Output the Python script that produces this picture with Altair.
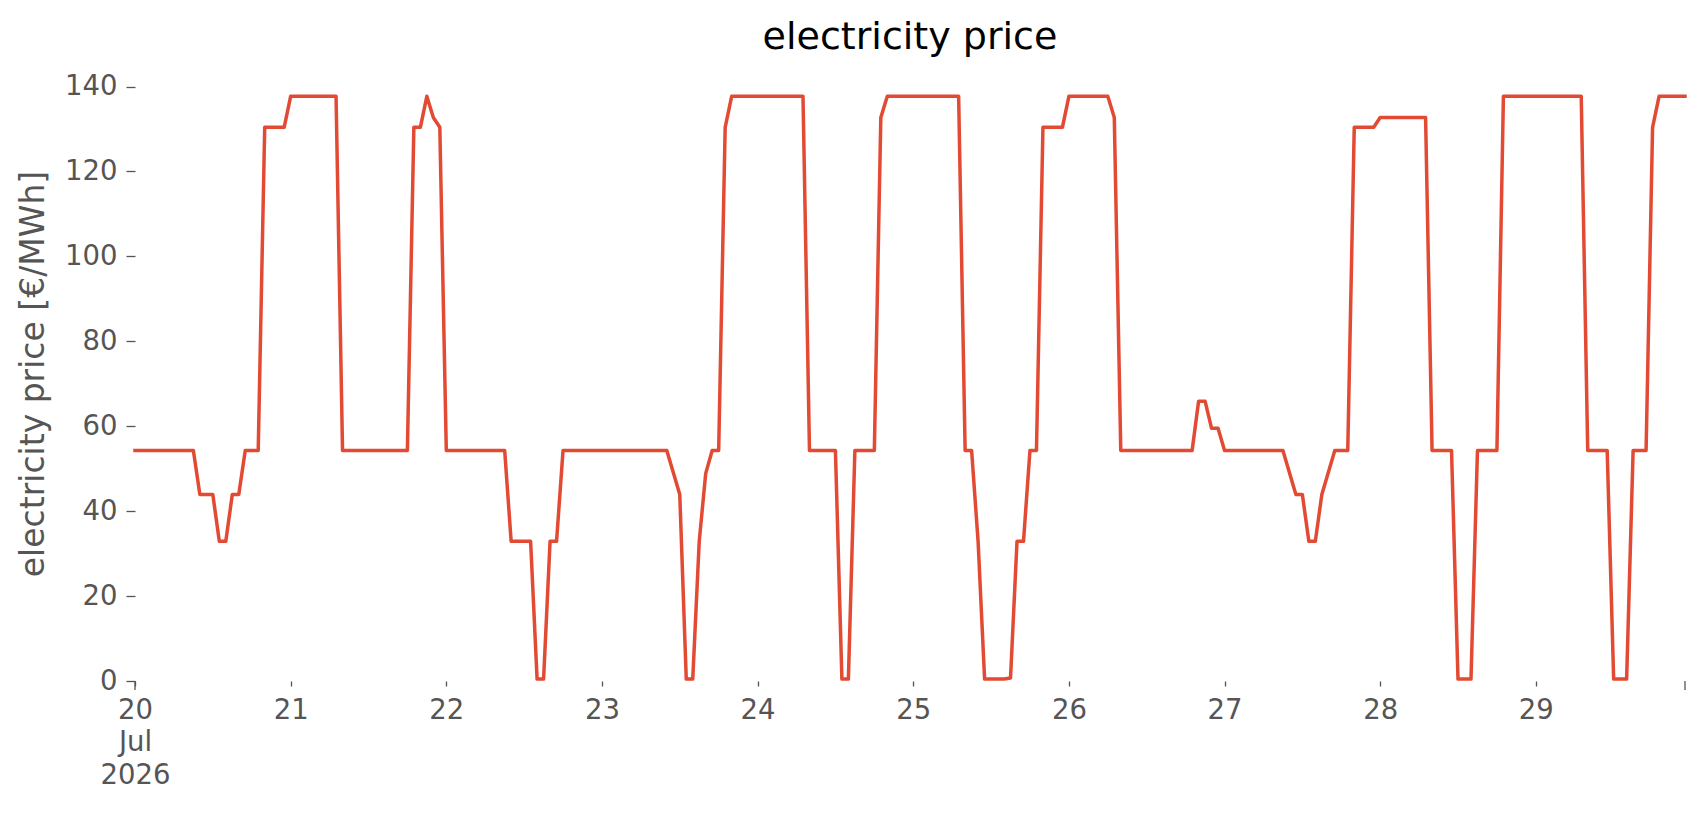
import altair as alt
import pandas as pd

# hourly electricity price, one list per day (20-29 Jul 2026)
day20 = [54.3, 54.3, 54.3, 54.3, 54.3, 54.3, 54.3, 54.3, 54.3, 54.3, 43.9, 43.9,
         43.9, 32.9, 32.9, 43.9, 43.9, 54.3, 54.3, 54.3, 130.4, 130.4, 130.4, 130.4]
day21 = [137.7, 137.7, 137.7, 137.7, 137.7, 137.7, 137.7, 137.7, 54.3, 54.3, 54.3, 54.3,
         54.3, 54.3, 54.3, 54.3, 54.3, 54.3, 54.3, 130.4, 130.4, 137.7, 132.7, 130.4]
day22 = [54.3, 54.3, 54.3, 54.3, 54.3, 54.3, 54.3, 54.3, 54.3, 54.3, 32.9, 32.9,
         32.9, 32.9, 0.45, 0.45, 32.9, 32.9, 54.3, 54.3, 54.3, 54.3, 54.3, 54.3]
day23 = [54.3, 54.3, 54.3, 54.3, 54.3, 54.3, 54.3, 54.3, 54.3, 54.3, 54.3, 49.1,
         43.9, 0.45, 0.45, 32.9, 48.9, 54.3, 54.3, 130.4, 137.7, 137.7, 137.7, 137.7]
day24 = [137.7, 137.7, 137.7, 137.7, 137.7, 137.7, 137.7, 137.7, 54.3, 54.3, 54.3, 54.3,
         54.3, 0.45, 0.45, 54.3, 54.3, 54.3, 54.3, 132.7, 137.7, 137.7, 137.7, 137.7]
day25 = [137.7, 137.7, 137.7, 137.7, 137.7, 137.7, 137.7, 137.7, 54.3, 54.3, 32.9, 0.45,
         0.45, 0.45, 0.45, 0.7, 32.9, 32.9, 54.3, 54.3, 130.4, 130.4, 130.4, 130.4]
day26 = [137.7, 137.7, 137.7, 137.7, 137.7, 137.7, 137.7, 132.7, 54.3, 54.3, 54.3, 54.3,
         54.3, 54.3, 54.3, 54.3, 54.3, 54.3, 54.3, 54.3, 65.9, 65.9, 59.5, 59.5]
day27 = [54.3, 54.3, 54.3, 54.3, 54.3, 54.3, 54.3, 54.3, 54.3, 54.3, 49.1, 43.9,
         43.9, 32.9, 32.9, 43.9, 49.1, 54.3, 54.3, 54.3, 130.4, 130.4, 130.4, 130.4]
day28 = [132.7, 132.7, 132.7, 132.7, 132.7, 132.7, 132.7, 132.7, 54.3, 54.3, 54.3, 54.3,
         0.45, 0.45, 0.45, 54.3, 54.3, 54.3, 54.3, 137.7, 137.7, 137.7, 137.7, 137.7]
day29 = [137.7, 137.7, 137.7, 137.7, 137.7, 137.7, 137.7, 137.7, 54.3, 54.3, 54.3, 54.3,
         0.45, 0.45, 0.45, 54.3, 54.3, 54.3, 130.4, 137.7, 137.7, 137.7, 137.7, 137.7]

days = [day20, day21, day22, day23, day24, day25, day26, day27, day28, day29]
tick_days = [20, 21, 22, 23, 24, 25, 26, 27, 28, 29]
y_ticks = [0, 20, 40, 60, 80, 100, 120, 140]

prices = [v for d in days for v in d]
times = pd.date_range("2026-07-20 00:00", periods=len(prices), freq="h")
df = pd.DataFrame({
    "time": [t.strftime("%Y-%m-%dT%H:%M:%S") for t in times],
    "price": prices,
})
major = pd.DataFrame({"time": [df["time"].iloc[0], df["time"].iloc[-1]]})

FONT = "DejaVu Sans"
GREY = "#555555"
W, H = 1550, 615

x_scale = alt.Scale(
    domain=[alt.DateTime(year=2026, month=7, date=20, hours=0),
            alt.DateTime(year=2026, month=7, date=29, hours=23)],
    nice=False,
)

line = alt.Chart(df).mark_line(
    color="#E24A33", strokeWidth=3.5, strokeJoin="round", strokeCap="square"
).encode(
    x=alt.X(
        "time:T",
        scale=x_scale,
        axis=alt.Axis(
            title=None,
            values=[alt.DateTime(year=2026, month=7, date=d) for d in tick_days],
            labelExpr="date(datum.value) == 20 ? ['20', 'Jul', '2026'] : timeFormat(datum.value, '%d')",
            grid=False,
            domain=False,
            tickSize=5,
            tickWidth=1.3,
            tickColor=GREY,
            labelFont=FONT,
            labelFontSize=27.5,
            labelColor=GREY,
            labelPadding=10,
            labelLineHeight=32.5,
            labelAlign="center",
            labelBaseline="top",
            labelFlush=False,
            labelOverlap=False,
        ),
    ),
    y=alt.Y(
        "price:Q",
        scale=alt.Scale(domain=[0, 144.84], nice=False, zero=False),
        axis=alt.Axis(
            title="electricity price [€/MWh]",
            values=y_ticks,
            grid=False,
            domain=False,
            tickSize=9,
            tickWidth=1.3,
            tickColor=GREY,
            labelFont=FONT,
            labelFontSize=27.5,
            labelColor=GREY,
            labelPadding=9,
            titleFont=FONT,
            titleFontSize=33,
            titleFontWeight="normal",
            titleColor=GREY,
            titleAngle=270,
            titleAlign="center",
            titleBaseline="alphabetic",
            titleX=-92,
            titleY=H / 2,
        ),
    ),
)

major_ticks = alt.Chart(major).mark_rule(color=GREY, strokeWidth=1.3).encode(
    x=alt.X("time:T", scale=x_scale),
    y=alt.value(H),
    y2=alt.value(H + 9),
)

chart = alt.layer(line, major_ticks).properties(
    width=W,
    height=H,
    title=alt.TitleParams(
        "electricity price",
        font=FONT,
        fontSize=38,
        fontWeight="normal",
        color="black",
        anchor="middle",
        frame="group",
        baseline="alphabetic",
        offset=0,
        dy=21,
    ),
    autosize=alt.AutoSizeParams(type="none"),
    padding={"left": 127, "top": 58, "right": 13, "bottom": 120},
    background="white",
).configure_view(stroke=None)

chart.save("out.html", embed_options={"renderer": "svg", "actions": False})
